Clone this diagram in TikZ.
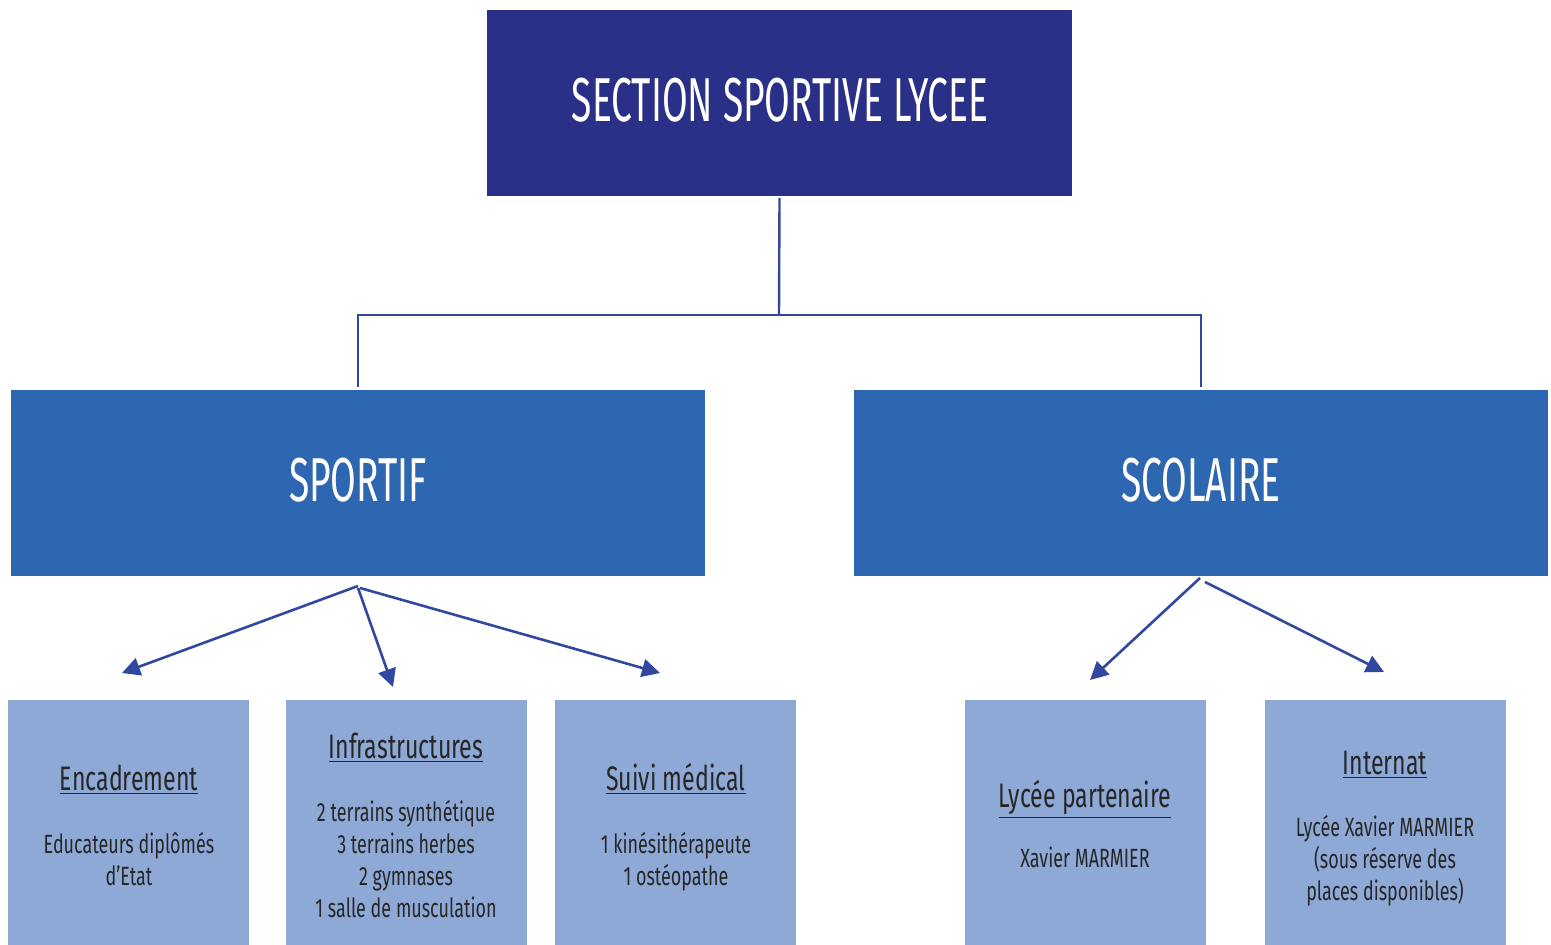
\documentclass[tikz,border=0pt]{standalone}
\usepackage{fontspec}
\setmainfont{Fira Sans}[FakeStretch=0.68]
\newfontfamily\bigfont{Fira Sans}[FakeStretch=0.6]
\usetikzlibrary{arrows.meta}
\definecolor{navy}{RGB}{42,48,135}
\definecolor{midblue}{RGB}{46,103,177}
\definecolor{lightblue}{RGB}{143,169,214}
\definecolor{linecol}{RGB}{50,72,160}
\definecolor{txt}{RGB}{38,38,38}
\tikzset{
  bigbox/.style={draw=none, inner sep=0pt, text=white},
  bigtext/.style={text=white, font=\bigfont\fontsize{31}{36}\selectfont, inner sep=0pt},
  smallbox/.style={fill=lightblue, draw=none, inner sep=0pt},
  head/.style={text=txt, font=\fontsize{17}{20}\selectfont, inner sep=0pt, anchor=base},
  body/.style={text=txt, font=\fontsize{13.2}{16}\selectfont, align=center, inner sep=0pt, anchor=north},
  conn/.style={draw=linecol, line width=1.2pt},
  arr/.style={draw=linecol, line width=1.3pt, -{Triangle[length=9pt,width=9pt]}},
}
\begin{document}
\begin{tikzpicture}[x=0.5pt,y=-0.5pt]
\useasboundingbox (0,0) rectangle (1551,945);
% big boxes
\fill[navy] (487,10) rectangle (1072,196);
\node[bigbox, minimum width=292.5pt, minimum height=93pt] (top) at (779.5,103) {};
\node[bigtext] (toptxt) at (780,100) {SECTION SPORTIVE LYCEE};
\fill[midblue] (11,390) rectangle (705,576);
\node[bigbox, minimum width=347pt, minimum height=93pt] (sport) at (358,483) {};
\node[bigtext] (sporttxt) at (358,480) {SPORTIF};
\fill[midblue] (854,390) rectangle (1548,576);
\node[bigbox, minimum width=347pt, minimum height=93pt] (scol) at (1201,483) {};
\node[bigtext] (scoltxt) at (1201,480) {SCOLAIRE};
% small boxes
\node[smallbox, minimum width=120.5pt, minimum height=122.5pt, anchor=north west] (enc) at (8,700) {};
\node[smallbox, minimum width=120.5pt, minimum height=122.5pt, anchor=north west] (inf) at (286,700) {};
\node[smallbox, minimum width=120.5pt, minimum height=122.5pt, anchor=north west] (med) at (555,700) {};
\node[smallbox, minimum width=120.5pt, minimum height=122.5pt, anchor=north west] (lyc) at (965,700) {};
\node[smallbox, minimum width=120.5pt, minimum height=122.5pt, anchor=north west] (int) at (1265,700) {};
% texts
\node[head] (enct) at (129,790) {\underline{Encadrement}};
\node[body] (encb) at (129,832) {Educateurs diplômés\\d’Etat};
\node[head] (inft) at (406,758) {\underline{Infrastructures}};
\node[body] (infb) at (406,800) {2 terrains synthétique\\3 terrains herbes\\2 gymnases\\1 salle de musculation};
\node[head] (medt) at (676,790) {\underline{Suivi médical}};
\node[body] (medb) at (676,832) {1 kinésithérapeute\\1 ostéopathe};
\node[head] (lyct) at (1085,807) {\underline{Lycée partenaire}};
\node[body] (lycb) at (1085,847) {Xavier MARMIER};
\node[head] (intt) at (1385,774) {\underline{Internat}};
\node[body] (intb) at (1385,815) {Lycée Xavier MARMIER\\(sous réserve des\\places disponibles)};
% connectors top
\coordinate (j) at (779,315);
\coordinate (ls) at (358,387);
\coordinate (rs) at (1201,387);
\draw[conn] (top.south |- 0,198) -- (j);
\draw[conn] (ls) -- (ls |- j) -- (rs |- j) -- (rs);
% arrows
\coordinate (s0) at (358,586);
\coordinate (s1) at (358,588);
\coordinate (s2) at (360,588);
\coordinate (a1) at (122,673);
\coordinate (a2) at (393,687);
\coordinate (a3) at (660,673);
\draw[arr] (s0) -- (a1);
\draw[arr] (s1) -- (a2);
\draw[arr] (s2) -- (a3);
\coordinate (c0) at (1200,578);
\coordinate (c1) at (1205,582);
\coordinate (b1) at (1090,680);
\coordinate (b2) at (1384,672);
\draw[arr] (c0) -- (b1);
\draw[arr] (c1) -- (b2);
\end{tikzpicture}
\end{document}
